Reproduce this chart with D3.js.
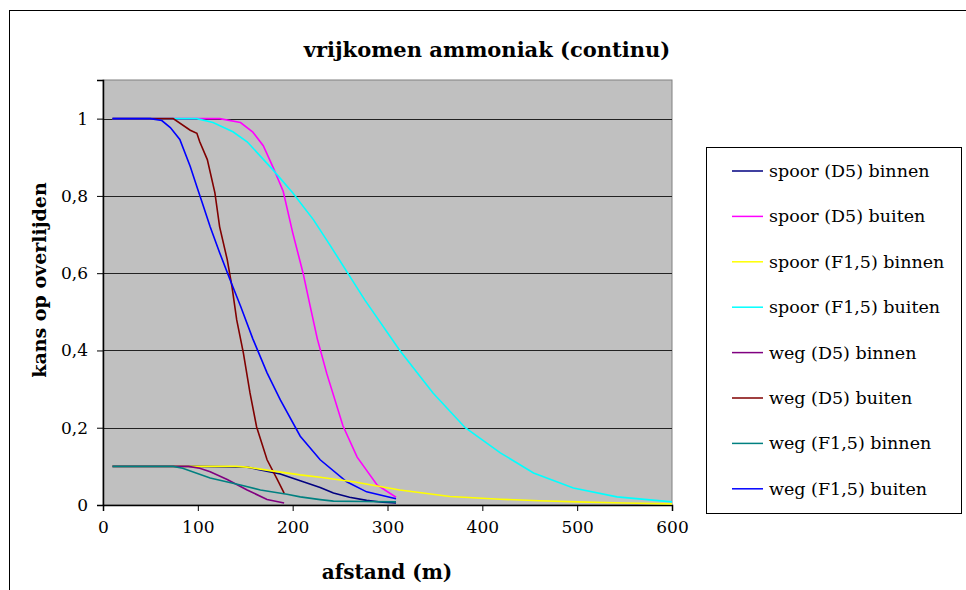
<!DOCTYPE html>
<html>
<head>
<meta charset="utf-8">
<script src="https://cdn.jsdelivr.net/npm/d3@7"></script>
<style>
  body { margin: 0; background: #fff; }
  svg text { font-family: "DejaVu Serif", "Liberation Serif", serif; fill: #000; }
</style>
</head>
<body>
<svg class="chart"></svg>
<script>
var svgWidth = 966, svgHeight = 590;

// afstand (m), kans op overlijden
var spoorD5Binnen = [[10,0.1],[100,0.1],[152,0.098],[187,0.08],[208,0.063],[229,0.045],[243,0.031],[260,0.02],[278,0.012],[295,0.007],[309,0.005]];
var spoorD5Buiten = [[10,1],[123,1],[145,0.99],[158,0.965],[169,0.93],[179,0.876],[190,0.812],[200,0.705],[211,0.6],[218,0.52],[226,0.43],[236,0.34],[253,0.205],[268,0.124],[289,0.052],[309,0.02]];
var spoorF15Binnen = [[10,0.1],[140,0.1],[152,0.098],[176,0.089],[208,0.078],[229,0.072],[264,0.06],[313,0.039],[366,0.022],[419,0.015],[460,0.011],[500,0.008],[550,0.005],[600,0.003]];
var spoorF15Buiten = [[10,1],[99,1],[116,0.99],[137,0.966],[152,0.94],[179,0.868],[200,0.808],[222,0.738],[239,0.674],[276,0.531],[313,0.4],[348,0.29],[382,0.2],[419,0.135],[454,0.083],[496,0.044],[542,0.021],[600,0.008]];
var wegD5Binnen = [[10,0.1],[74,0.1],[90,0.1],[102,0.095],[113,0.086],[131,0.066],[152,0.039],[173,0.014],[191,0.005]];
var wegD5Buiten = [[10,1],[74,1],[92,0.97],[99,0.962],[102,0.94],[110,0.894],[118,0.808],[123,0.72],[131,0.635],[136,0.565],[141,0.479],[148,0.394],[155,0.29],[162,0.202],[173,0.117],[184,0.065],[191,0.031]];
var wegF15Binnen = [[10,0.1],[74,0.1],[84,0.095],[113,0.07],[145,0.052],[166,0.039],[194,0.028],[208,0.021],[229,0.014],[243,0.01],[275,0.009],[309,0.008]];
var wegF15Buiten = [[10,1],[50,1],[62,0.995],[71,0.977],[81,0.946],[92,0.876],[99,0.824],[105,0.78],[113,0.72],[123,0.653],[134,0.583],[145,0.515],[158,0.43],[173,0.342],[187,0.272],[208,0.178],[229,0.117],[257,0.06],[278,0.034],[309,0.016]];

var seriesNames = ['spoor (D5) binnen', 'spoor (D5) buiten', 'spoor (F1,5) binnen', 'spoor (F1,5) buiten',
                   'weg (D5) binnen', 'weg (D5) buiten', 'weg (F1,5) binnen', 'weg (F1,5) buiten'];
var seriesValues = [spoorD5Binnen, spoorD5Buiten, spoorF15Binnen, spoorF15Buiten,
                    wegD5Binnen, wegD5Buiten, wegF15Binnen, wegF15Buiten];
var seriesColors = ['#000080', '#ff00ff', '#ffff00', '#00ffff', '#800080', '#800000', '#008080', '#0000ff'];
// draw order so the low lines stack like the original
var drawOrder = [0, 1, 3, 5, 7, 2, 4, 6];

var xTicks = [0, 100, 200, 300, 400, 500, 600];
var yTicks = [0, 0.2, 0.4, 0.6, 0.8, 1];
var yTickLabels = ['0', '0,2', '0,4', '0,6', '0,8', '1'];

var plot = { left: 103, right: 672, top: 80, bottom: 505 };

var svg = d3.select('svg.chart').attr('width', svgWidth).attr('height', svgHeight);

// outer chart border (runs off the page)
svg.append('rect')
    .attr('x', 9.5).attr('y', 10.5)
    .attr('width', 1000).attr('height', 1000)
    .attr('fill', '#fff').attr('stroke', '#000');

var x = d3.scaleLinear().domain([0, 600]).range([plot.left, plot.right]);
var y = d3.scaleLinear().domain([0, 1.1]).range([plot.bottom, plot.top]);

svg.append('rect')
    .attr('x', plot.left).attr('y', plot.top)
    .attr('width', plot.right - plot.left).attr('height', plot.bottom - plot.top)
    .attr('fill', '#c0c0c0').attr('stroke', '#808080');

// gridlines
svg.append('g')
    .selectAll('line')
    .data(yTicks.slice(1))
    .enter()
    .append('line')
    .attr('x1', plot.left).attr('x2', plot.right)
    .attr('y1', function(d) { return Math.round(y(d)) + 0.5; })
    .attr('y2', function(d) { return Math.round(y(d)) + 0.5; })
    .attr('stroke', '#222').attr('stroke-width', 1.2);

var xAxis = svg.append('g')
    .attr('transform', 'translate(0,' + plot.bottom + ')')
    .call(d3.axisBottom(x).tickValues(xTicks).tickSize(6).tickPadding(10));
var yAxis = svg.append('g')
    .attr('transform', 'translate(' + plot.left + ',0)')
    .call(d3.axisLeft(y).tickValues(yTicks).tickSize(6).tickPadding(9)
        .tickFormat(function(d, i) { return yTickLabels[i]; }));

[xAxis, yAxis].forEach(function(a) {
    a.select('.domain').attr('stroke', '#000').attr('stroke-width', 1.5);
    a.selectAll('.tick line').attr('stroke', '#000');
    a.selectAll('text').attr('font-size', 17).attr('font-family', '"DejaVu Serif", serif');
});

var line = d3.line()
    .x(function(d) { return x(d[0]); })
    .y(function(d) { return y(d[1]); });

svg.append('g')
    .selectAll('path.series')
    .data(drawOrder)
    .enter()
    .append('path')
    .attr('class', 'series')
    .attr('d', function(i) { return line(seriesValues[i]); })
    .attr('fill', 'none')
    .attr('stroke', function(i) { return seriesColors[i]; })
    .attr('stroke-width', 1.6);

// titles
svg.append('text')
    .attr('x', 487).attr('y', 57)
    .attr('text-anchor', 'middle')
    .attr('font-size', 21).attr('font-weight', 'bold')
    .text('vrijkomen ammoniak (continu)');

svg.append('text')
    .attr('x', 387).attr('y', 579)
    .attr('text-anchor', 'middle')
    .attr('font-size', 20).attr('font-weight', 'bold')
    .text('afstand (m)');

svg.append('text')
    .attr('transform', 'translate(46,280) rotate(-90)')
    .attr('text-anchor', 'middle')
    .attr('font-size', 19).attr('font-weight', 'bold')
    .text('kans op overlijden');

// legend
var legend = svg.append('g').attr('class', 'legend');
legend.append('rect')
    .attr('x', 706.5).attr('y', 147.5)
    .attr('width', 255).attr('height', 366)
    .attr('fill', '#fff').attr('stroke', '#000');

var items = legend.selectAll('g.item')
    .data(seriesNames)
    .enter()
    .append('g')
    .attr('class', 'item')
    .attr('transform', function(d, i) { return 'translate(0,' + (171 + i * 45.4) + ')'; });

items.append('line')
    .attr('x1', 732).attr('x2', 763)
    .attr('stroke', function(d, i) { return seriesColors[i]; })
    .attr('stroke-width', 1.5);

items.append('text')
    .attr('x', 769).attr('y', 6)
    .attr('font-size', 17.5)
    .text(function(d) { return d; });
</script>
</body>
</html>
